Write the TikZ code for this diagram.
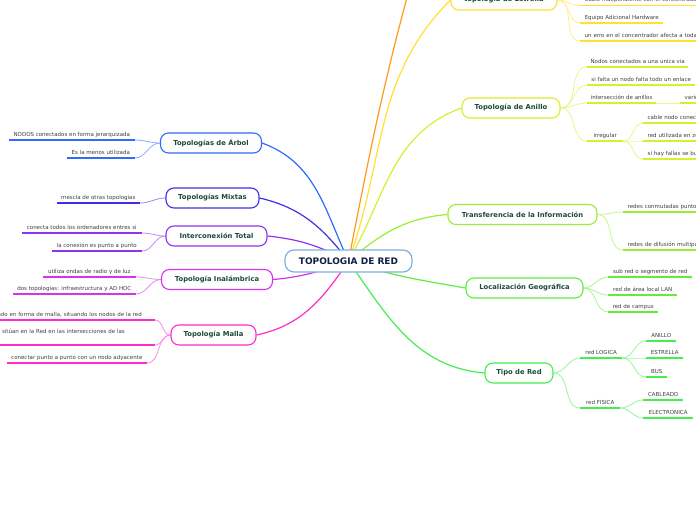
\documentclass[tikz,border=0pt]{standalone}
\usepackage{fontspec}
\setmainfont{DejaVu Sans}
\pgfdeclarelayer{bg}
\pgfsetlayers{bg,main}
\newcommand{\leaffont}{\fontsize{5.5}{6.5}\selectfont}
\newcommand{\mainfnt}{\bfseries\fontsize{6.8}{8}\selectfont}
\newcommand{\centerfnt}{\bfseries\fontsize{9}{10}\selectfont}
\definecolor{cArbol}{HTML}{2F6BFF}
\definecolor{cMixtas}{HTML}{3F2FE6}
\definecolor{cInter}{HTML}{8F33EE}
\definecolor{cInal}{HTML}{D633EE}
\definecolor{cMalla}{HTML}{FF2EC8}
\definecolor{cOrange}{HTML}{FF9A1F}
\definecolor{cEstrella}{HTML}{FFE033}
\definecolor{cAnillo}{HTML}{D9EE2F}
\definecolor{cTransf}{HTML}{99EE33}
\definecolor{cLocal}{HTML}{5EEE3A}
\definecolor{cTipo}{HTML}{45EE4F}
\definecolor{cCenter}{HTML}{7FB2DE}
\definecolor{tMain}{HTML}{1B4A3A}
\definecolor{tCenter}{HTML}{0F2244}
\definecolor{tLeaf}{HTML}{404040}
\begin{document}
\begin{tikzpicture}[x=1pt,y=-1pt,
  mainnode/.style={draw=#1, line width=1.1pt, rounded corners=8pt, fill=white,
    minimum height=20pt, font=\mainfnt, text=tMain, inner xsep=2pt, inner ysep=0pt},
  centernode/.style={draw=cCenter, line width=1.2pt, rounded corners=9pt, fill=white,
    minimum width=127pt, minimum height=22pt, font=\centerfnt, text=tCenter},
  leaf/.style={font=\leaffont, text=tLeaf, inner xsep=0pt, inner ysep=1.5pt,
    text height=4pt, text depth=2.2pt,
    append after command={(\tikzlastnode.south west) edge[draw=#1, line width=1.8pt] (\tikzlastnode.south east)}},
  leafL/.style={leaf=#1, anchor=south east},
  leafR/.style={leaf=#1, anchor=south west},
  longR/.style={leafR=#1, text width=220pt, align=left, inner xsep=4.5pt},
  longL/.style={leafL=#1, text width=250pt, align=right, inner xsep=4.5pt},
  br/.style={draw=#1, line width=1.2pt},
  lc/.style={draw=#1!55!white, line width=0.8pt}
]
\useasboundingbox (0,0) rectangle (696,520);
\clip (0,0) rectangle (696,520);

% main nodes
\node[centernode] (c) at (348.5,261) {TOPOLOGIA DE RED};
\node[mainnode=cArbol, minimum width=101pt] (arbol) at (211,143) {Topologías de Árbol};
\node[mainnode=cMixtas, minimum width=93pt] (mixtas) at (212.5,198) {Topologías Mixtas};
\node[mainnode=cInter, minimum width=101pt] (inter) at (216.5,236) {Interconexión Total};
\node[mainnode=cInal, minimum width=111pt] (inal) at (217,279.5) {Topología Inalámbrica};
\node[mainnode=cMalla, minimum width=85pt] (malla) at (213.5,335) {Topología Malla};
\node[mainnode=cEstrella, minimum width=106pt] (estrella) at (504,0) {topología de Estrella};
\node[mainnode=cAnillo, minimum width=98pt] (anillo) at (511,108) {Topología de Anillo};
\node[mainnode=cTransf, minimum width=149pt] (transf) at (522.5,214.5) {Transferencia de la Información};
\node[mainnode=cLocal, minimum width=117pt] (local) at (524.5,288) {Localización Geográfica};
\node[mainnode=cTipo, minimum width=68pt] (tipo) at (519,373) {Tipo de Red};
\coordinate (oend) at (423,-60);

% left leaves
\node[leafL=cArbol, minimum width=126pt] (a1) at (135,140) {NODOS conectados en forma jerarquizada};
\node[leafL=cArbol, minimum width=68pt] (a2) at (135,158) {Es la menos utilizada};
\node[leafL=cMixtas, minimum width=83pt] (x1) at (140,203) {mescla de otras topologias};
\node[leafL=cInter, minimum width=120pt] (i1) at (142,233) {conecta todos los ordenadores entres si};
\node[leafL=cInter, minimum width=90pt] (i2) at (142,251) {la conexión es punto a punto};
\node[leafL=cInal, minimum width=93pt] (n1) at (136,277) {utiliza ondas de radio y de luz};
\node[leafL=cInal, minimum width=123pt] (n2) at (136,294) {dos topologias: infraestructura y AD HOC};
\node[longL=cMalla] (ml1) at (155,320) {Se ha diseñado en forma de malla, situando los nodos de la red\hspace*{8.5pt}};
\node[longL=cMalla, text depth=10pt] (ml2) at (155,345) {Los nodos se sitúan en la Red en las intersecciones de las\hspace*{25.5pt}};
\node[leafL=cMalla, minimum width=140pt] (ml3) at (147,363) {conectar punto a punto con un nodo adyacente};

% right leaves
\node[longR=cEstrella] (e1) at (580,5.5) {Cable independiente con el concentrador};
\node[leafR=cEstrella, minimum width=83pt] (e2) at (580,23) {Equipo Adicional Hardware};
\node[longR=cEstrella] (e3) at (580,41) {un erro en el concentrador afecta a toda la red};
\node[leafR=cAnillo, minimum width=101pt] (r1) at (587,67) {Nodos conectados a una unica via};
\node[leafR=cAnillo, minimum width=108pt] (r2) at (587,85) {si falta un nodo falta todo un enlace};
\node[leafR=cAnillo, minimum width=69pt] (r3) at (587,103) {intersección de anillos};
\node[longR=cAnillo] (r3b) at (680,103) {varios anillos};
\node[leafR=cAnillo, minimum width=36pt] (r4) at (587,141) {irregular};
\node[longR=cAnillo] (r4a) at (643,123) {cable nodo conectado};
\node[longR=cAnillo] (r4b) at (643,141) {red utilizada en zonas};
\node[longR=cAnillo] (r4c) at (643,159) {si hay fallas se busca};
\node[longR=cTransf] (t1) at (623,212) {redes conmutadas punto a punto};
\node[longR=cTransf] (t2) at (623,250) {redes de difusión multipunto};
\node[leafR=cLocal, minimum width=84pt] (g1) at (608,277) {sub red o segmento de red};
\node[leafR=cLocal, minimum width=69pt] (g2) at (608,295) {red de área local LAN};
\node[leafR=cLocal, minimum width=50pt] (g3) at (608,312) {red de campus};
\node[leafR=cTipo, minimum width=42pt] (p1) at (580,358) {red LOGICA};
\node[leafR=cTipo, minimum width=30pt] (p1a) at (646,341) {ANILLO};
\node[leafR=cTipo, minimum width=37pt] (p1b) at (646,358) {ESTRELLA};
\node[leafR=cTipo, minimum width=21pt] (p1c) at (646,377) {BUS};
\node[leafR=cTipo, minimum width=40pt] (p2) at (580,408) {red FISICA};
\node[leafR=cTipo, minimum width=40pt] (p2a) at (643,400) {CABLEADO};
\node[leafR=cTipo, minimum width=50pt] (p2b) at (643,418) {ELECTRONICA};

\begin{pgfonlayer}{bg}
\clip (0,0) rectangle (696,520);
\fill[white] (0,0) rectangle (696,520);
% main branches (angles are in page orientation: 90 = up)
\draw[br=cArbol] (c.center) to[out=115,in=340] (arbol.east);
\draw[br=cMixtas] (c.center) to[out=128,in=347] (mixtas.east);
\draw[br=cInter] (c.center) to[out=153,in=354] (inter.east);
\draw[br=cInal] (c.center) to[out=200,in=5] (inal.east);
\draw[br=cMalla] (c.center) to[out=236,in=12] (malla.east);
\draw[br=cOrange] (c.center) to[out=79,in=254] (oend);
\draw[br=cEstrella] (c.center) to[out=70,in=225] (estrella.west);
\draw[br=cAnillo] (c.center) to[out=60,in=200] (anillo.west);
\draw[br=cTransf] (c.center) to[out=40,in=185] (transf.west);
\draw[br=cLocal] (c.center) to[out=341,in=170] (local.west);
\draw[br=cTipo] (c.center) to[out=305,in=175] (tipo.west);
% left leaf connectors
\draw[lc=cArbol] (arbol.west) to[out=180,in=0] (a1.south east);
\draw[lc=cArbol] (arbol.west) to[out=180,in=0] (a2.south east);
\draw[lc=cMixtas] (mixtas.west) to[out=180,in=0] (x1.south east);
\draw[lc=cInter] (inter.west) to[out=180,in=0] (i1.south east);
\draw[lc=cInter] (inter.west) to[out=180,in=0] (i2.south east);
\draw[lc=cInal] (inal.west) to[out=180,in=0] (n1.south east);
\draw[lc=cInal] (inal.west) to[out=180,in=0] (n2.south east);
\draw[lc=cMalla] (malla.west) to[out=180,in=0] (ml1.south east);
\draw[lc=cMalla] (malla.west) to[out=180,in=0] (ml2.south east);
\draw[lc=cMalla] (malla.west) to[out=180,in=0] (ml3.south east);
% right leaf connectors
\draw[lc=cEstrella] (estrella.east) to[out=0,in=180] (e1.south west);
\draw[lc=cEstrella] (estrella.east) to[out=0,in=180] (e2.south west);
\draw[lc=cEstrella] (estrella.east) to[out=0,in=180] (e3.south west);
\draw[lc=cAnillo] (anillo.east) to[out=0,in=180] (r1.south west);
\draw[lc=cAnillo] (anillo.east) to[out=0,in=180] (r2.south west);
\draw[lc=cAnillo] (anillo.east) to[out=0,in=180] (r3.south west);
\draw[lc=cAnillo] (anillo.east) to[out=0,in=180] (r4.south west);
\draw[lc=cAnillo] (r3.south east) -- (r3b.south west);
\draw[lc=cAnillo] (r4.south east) to[out=0,in=180] (r4a.south west);
\draw[lc=cAnillo] (r4.south east) to[out=0,in=180] (r4b.south west);
\draw[lc=cAnillo] (r4.south east) to[out=0,in=180] (r4c.south west);
\draw[lc=cTransf] (transf.east) to[out=0,in=180] (t1.south west);
\draw[lc=cTransf] (transf.east) to[out=0,in=180] (t2.south west);
\draw[lc=cLocal] (local.east) to[out=0,in=180] (g1.south west);
\draw[lc=cLocal] (local.east) to[out=0,in=180] (g2.south west);
\draw[lc=cLocal] (local.east) to[out=0,in=180] (g3.south west);
\draw[lc=cTipo] (tipo.east) to[out=0,in=180] (p1.south west);
\draw[lc=cTipo] (tipo.east) to[out=0,in=180] (p2.south west);
\draw[lc=cTipo] (p1.south east) to[out=0,in=180] (p1a.south west);
\draw[lc=cTipo] (p1.south east) to[out=0,in=180] (p1b.south west);
\draw[lc=cTipo] (p1.south east) to[out=0,in=180] (p1c.south west);
\draw[lc=cTipo] (p2.south east) to[out=0,in=180] (p2a.south west);
\draw[lc=cTipo] (p2.south east) to[out=0,in=180] (p2b.south west);
\end{pgfonlayer}
\end{tikzpicture}
\end{document}
